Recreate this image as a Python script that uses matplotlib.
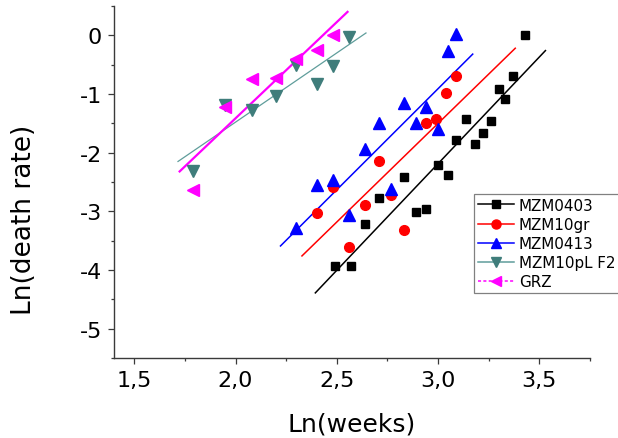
import matplotlib
matplotlib.use("Agg")
import matplotlib.pyplot as plt
from matplotlib.lines import Line2D
from matplotlib.ticker import MultipleLocator, FixedLocator

plt.rcParams['font.family'] = ['DejaVu Sans']
plt.rcParams['axes.unicode_minus'] = False

# ---- data ----
mzm0403_x = [2.49, 2.57, 2.64, 2.71, 2.83, 2.89, 2.94, 3.00, 3.05, 3.09, 3.14, 3.18, 3.22, 3.26, 3.30, 3.33, 3.37, 3.43]
mzm0403_y = [-3.93, -3.93, -3.21, -2.77, -2.41, -3.01, -2.96, -2.21, -2.38, -1.78, -1.43, -1.85, -1.66, -1.46, -0.91, -1.09, -0.69, 0.00]

mzm10gr_x = [2.40, 2.48, 2.56, 2.64, 2.71, 2.77, 2.83, 2.94, 2.99, 3.04, 3.09]
mzm10gr_y = [-3.03, -2.58, -3.61, -2.89, -2.14, -2.72, -3.32, -1.49, -1.43, -0.98, -0.69]

mzm0413_x = [2.30, 2.40, 2.48, 2.56, 2.64, 2.71, 2.77, 2.83, 2.89, 2.94, 3.00, 3.05, 3.09]
mzm0413_y = [-3.28, -2.55, -2.47, -3.06, -1.94, -1.49, -2.62, -1.15, -1.49, -1.22, -1.60, -0.27, 0.02]

mzm10pl_x = [1.79, 1.95, 2.08, 2.20, 2.30, 2.40, 2.48, 2.56]
mzm10pl_y = [-2.32, -1.19, -1.28, -1.03, -0.51, -0.83, -0.52, -0.02]

grz_x = [1.79, 1.95, 2.08, 2.20, 2.30, 2.40, 2.48]
grz_y = [-2.64, -1.22, -0.74, -0.72, -0.40, -0.25, 0.00]

# fitted lines (end points)
fit_mzm0403_x = [2.394, 3.530]
fit_mzm0403_y = [-4.39, -0.26]
fit_mzm10gr_x = [2.328, 3.381]
fit_mzm10gr_y = [-3.76, -0.22]
fit_mzm0413_x = [2.222, 3.171]
fit_mzm0413_y = [-3.59, -0.32]
fit_mzm10pl_x = [1.716, 2.644]
fit_mzm10pl_y = [-2.15, 0.04]
fit_grz_x = [1.724, 2.553]
fit_grz_y = [-2.32, 0.40]

series_names = ["MZM0403", "MZM10gr", "MZM0413", "MZM10pL F2", "GRZ"]
xtick_values = [1.5, 2.0, 2.5, 3.0, 3.5]
xtick_labels = ["1,5", "2,0", "2,5", "3,0", "3,5"]
ytick_values = [0, -1, -2, -3, -4, -5]
ytick_labels = ["0", "-1", "-2", "-3", "-4", "-5"]

# ---- figure ----
W, H = 618, 439
fig = plt.figure(figsize=(W / 100, H / 100), dpi=100)
L, R, T, B = 114, 590, 7, 359
ax = fig.add_axes([L / W, 1 - B / H, (R - L) / W, (B - T) / H])

teal_m = '#3f7d7b'
teal_l = '#5f9d9b'
mag = '#ff00ff'

# fit lines
ax.plot(fit_mzm0403_x, fit_mzm0403_y, color='black', lw=1.1, zorder=2)
ax.plot(fit_mzm10gr_x, fit_mzm10gr_y, color='#ff0000', lw=1.1, zorder=2)
ax.plot(fit_mzm0413_x, fit_mzm0413_y, color='#0000ff', lw=1.1, zorder=2)
ax.plot(fit_mzm10pl_x, fit_mzm10pl_y, color=teal_l, lw=0.9, zorder=2)
ax.plot(fit_grz_x, fit_grz_y, color=mag, lw=1.6, zorder=2)

# markers
ax.plot(mzm0403_x, mzm0403_y, ls='none', marker='s', ms=6.3, color='black', zorder=3)
ax.plot(mzm10gr_x, mzm10gr_y, ls='none', marker='o', ms=7, color='#ff0000', zorder=3)
ax.plot(mzm0413_x, mzm0413_y, ls='none', marker='^', ms=8, color='#0000ff', zorder=3)
ax.plot(mzm10pl_x, mzm10pl_y, ls='none', marker='v', ms=8, color=teal_m, zorder=3)
ax.plot(grz_x, grz_y, ls='none', marker='<', ms=8, color=mag, zorder=3)

ax.set_xlim(1.4, 3.75)
ax.set_ylim(-5.5, 0.5)

ax.xaxis.set_major_locator(FixedLocator(xtick_values))
ax.set_xticklabels(xtick_labels)
ax.yaxis.set_major_locator(FixedLocator(ytick_values))
ax.set_yticklabels(ytick_labels)
ax.xaxis.set_minor_locator(MultipleLocator(0.25))
ax.yaxis.set_minor_locator(MultipleLocator(0.5))

spine_c = '#3a3a3a'
for s in ['top', 'right']:
    ax.spines[s].set_visible(False)
for s in ['left', 'bottom']:
    ax.spines[s].set_color(spine_c)
    ax.spines[s].set_linewidth(1.0)

ax.tick_params(which='major', direction='out', length=4.3, width=0.9, color=spine_c,
               labelsize=16, pad=4.5)
ax.tick_params(which='minor', direction='out', length=2.3, width=0.9, color=spine_c)

ax.set_xlabel("Ln(weeks)", fontsize=18, labelpad=15)
ax.set_ylabel("Ln(death rate)", fontsize=19)
ax.yaxis.set_label_coords(-0.162, 0.395)

# legend
handles = [
    Line2D([], [], color='black', lw=1.1, marker='s', ms=6),
    Line2D([], [], color='#ff0000', lw=1.1, marker='o', ms=6.5),
    Line2D([], [], color='#0000ff', lw=1.1, marker='^', ms=7),
    Line2D([], [], color=teal_l, lw=1.1, marker='v', ms=7, mfc=teal_m, mec=teal_m),
    Line2D([], [], color=mag, lw=1.1, ls=(0, (2, 1.5)), marker='<', ms=7),
]
leg = fig.legend(handles, series_names, loc='upper left',
                 bbox_to_anchor=(474 / W, 1 - 195 / H), bbox_transform=fig.transFigure,
                 fontsize=10.9, frameon=True, fancybox=False, framealpha=1,
                 edgecolor='#808080', borderpad=0.25, labelspacing=0.27,
                 handlelength=2.4, handletextpad=0.3, borderaxespad=0)
leg.get_frame().set_linewidth(0.9)

fig.savefig("out.png", dpi=100)
